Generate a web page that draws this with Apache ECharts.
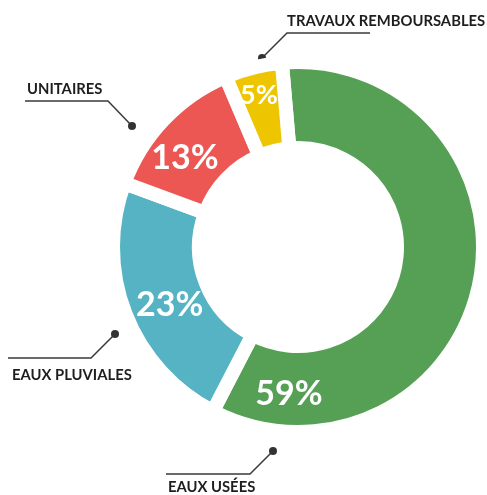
<!DOCTYPE html>
<html>
<head>
<meta charset="utf-8">
<script src="https://cdn.jsdelivr.net/npm/echarts@6/dist/echarts.min.js"></script>
<style>
  html, body { margin: 0; padding: 0; background: #ffffff; }
  #chart { width: 487px; height: 495px; }
</style>
</head>
<body>
<div id="chart"></div>
<script>
// Budget split by network type (percent)
const categories = ['EAUX USÉES', 'EAUX PLUVIALES', 'UNITAIRES', 'TRAVAUX REMBOURSABLES'];
const shares = [59, 23, 13, 5];

// Styling / layout
const palette = ['#55A054', '#56B3C3', '#ED5753', '#EDC500'];
const pctFontSizes = [34, 34, 34, 27];
const CX = 298, CY = 247;
// percentage label placement: [angle clockwise from 12 o'clock (deg), distance from centre]
const pctLabelPolar = [[183.5, 147], [245.6, 141], [308.2, 144], [345.6, 157]];
// name callouts: dot, elbow, end of the leader line, and text anchor
const callouts = [
  { dot: [273, 451], elbow: [250, 474], end: [166, 474], text: [168, 487] },
  { dot: [115, 334], elbow: [91, 358], end: [8, 358], text: [12, 375] },
  { dot: [132, 126], elbow: [108, 101], end: [25, 101], text: [27, 89] },
  { dot: [262, 58], elbow: [287, 33], end: [370, 33], text: [287, 21] }
];

const chart = echarts.init(document.getElementById('chart'), null, { renderer: 'canvas' });

const graphics = [];
categories.forEach((name, i) => {
  const c = callouts[i];
  graphics.push({
    type: 'polyline', silent: true,
    shape: { points: [c.dot, c.elbow, c.end] },
    style: { stroke: '#3a3a3a', lineWidth: 1.5, fill: null }
  });
  graphics.push({
    type: 'circle', silent: true,
    shape: { cx: c.dot[0], cy: c.dot[1], r: 4 },
    style: { fill: '#333333' }
  });
  graphics.push({
    type: 'text', silent: true,
    style: {
      x: c.text[0], y: c.text[1], text: name,
      fill: '#1e1e1e', font: '700 14.8px Lato', textVerticalAlign: 'middle', textAlign: 'left'
    }
  });
});

chart.setOption({
  backgroundColor: '#ffffff',
  animation: false,
  series: [{
    type: 'pie',
    center: [CX, CY],
    radius: [99, 185],
    startAngle: 95,
    clockwise: true,
    avoidLabelOverlap: false,
    silent: true,
    itemStyle: { borderColor: '#ffffff', borderWidth: 14 },
    label: {
      show: true,
      position: 'inside',
      formatter: p => p.value + '%',
      color: '#ffffff',
      fontFamily: 'Lato',
      fontWeight: 700,
      fontSize: 34
    },
    labelLine: { show: false },
    labelLayout: params => {
      const [a, r] = pctLabelPolar[params.dataIndex];
      const rad = a * Math.PI / 180;
      return { x: CX + r * Math.sin(rad), y: CY - r * Math.cos(rad), align: 'center', verticalAlign: 'middle' };
    },
    emphasis: { disabled: true },
    data: categories.map((name, i) => ({
      name,
      value: shares[i],
      itemStyle: { color: palette[i] },
      label: { fontSize: pctFontSizes[i] }
    }))
  }],
  graphic: graphics
});
</script>
</body>
</html>
